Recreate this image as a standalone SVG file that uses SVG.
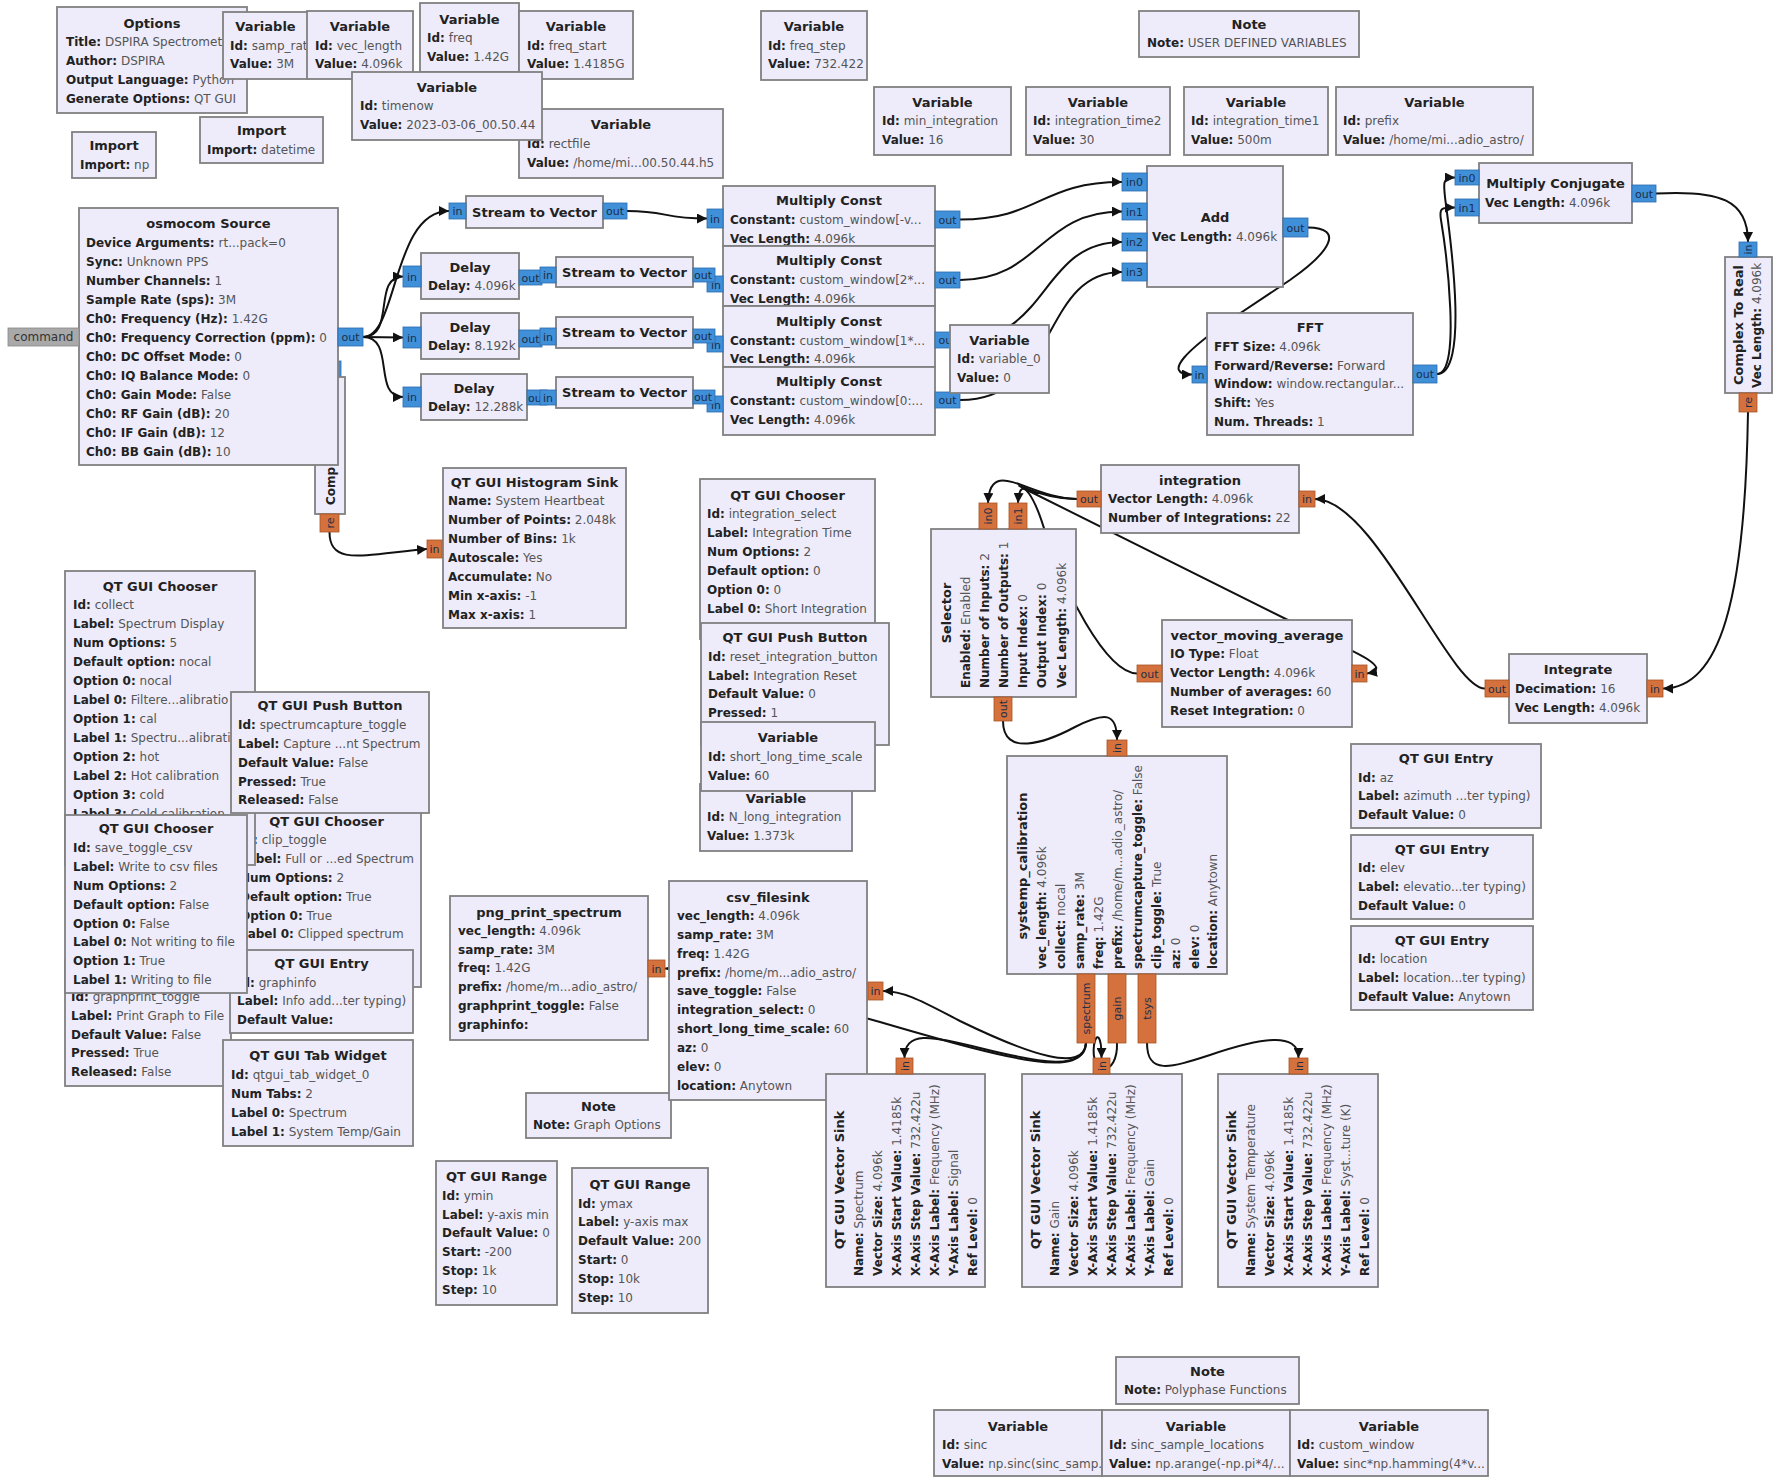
<svg xmlns="http://www.w3.org/2000/svg" width="1775" height="1478" viewBox="0 0 1775 1478">
<defs>
<marker id="ah" markerUnits="userSpaceOnUse" markerWidth="11" markerHeight="10" refX="10" refY="5" orient="auto"><path d="M0,0 L10,5 L0,10 Z" fill="#111"/></marker>
<style>
text{font-family:"DejaVu Sans","Liberation Sans",sans-serif;font-size:12px;fill:#555}
.b{fill:#eeecfb;stroke:#808080;stroke-width:1.8}
.t{font-size:13px;font-weight:bold;fill:#222;text-anchor:middle}
.k{font-weight:bold;fill:#222}
.pb{fill:#3f8fd9;stroke:#2c6cae;stroke-width:.8}
.po{fill:#d4713d;stroke:#a85527;stroke-width:.8}
.pg{fill:#a9a9a9;stroke:#888;stroke-width:.8}
.pt{font-size:11px;fill:#1d2e48;text-anchor:middle}
.c{fill:none;stroke:#111;stroke-width:2;marker-end:url(#ah)}
</style>
</defs>
<rect width="1775" height="1478" fill="#ffffff"/>

<g id="connectors">
<path class="c" d="M363,337 C398,337 392,211 449,211"/>
<path class="c" d="M363,337 C396,337 372,276.5 403,276.5"/>
<path class="c" d="M363,337 L403,337.5"/>
<path class="c" d="M363,337 C396,337 372,397 403,397"/>
<path class="c" d="M627,211 C668,211 662,218.5 707,218.5"/>
<path class="c" d="M960,219.5 C1040,219.5 1040,182 1122,182"/>
<path class="c" d="M960,280 C1040,280 1040,211.5 1122,211.5"/>
<path class="c" d="M960,340 C1050,340 1040,242 1122,242"/>
<path class="c" d="M960,400 C1060,400 1040,272 1122,272"/>
<path class="c" d="M1308,227.5 C1345,228 1330,252 1290,280 L1230,320 C1190,348 1160,374.5 1192,374.5"/>
<path class="c" d="M1437,374 C1468,374 1452,250 1446,205 C1443,182 1442,177.5 1455,177.5"/>
<path class="c" d="M1437,374 C1462,374 1446,250 1441,220 C1439,208 1441,207.5 1455,207.5"/>
<path class="c" d="M1656,193.5 C1720,190 1748,200 1748,242"/>
<path class="c" d="M1748,412 C1745,600 1720,688.5 1663,688.5"/>
<path class="c" d="M1485,688.5 C1450,689 1375,499 1315,499"/>
<path class="c" d="M1077,499 C1030,499 990,455 988,503"/>
<path class="c" d="M1137,673.5 C1105,673 1062,585 1046,535 C1036,500 1020,470 1018,503"/>
<path class="c" d="M1077,499 C1040,499 1005,478 1025,489 L1300,626 C1345,648 1398,668 1367,673.5"/>
<path class="c" d="M1003,721 C1003,757 1045,743 1075,727 C1105,712 1117,712 1117,740"/>
<path class="c" d="M1086,1043 C1085,1071 1040,1063 980,1048 C930,1035 904.5,1031 904.5,1058"/>
<path class="c" d="M1086,1043 C1084,1073 1030,1055 960,1021 C925,1003 905,991 883,991"/>
<path class="c" d="M1086,1043 C1083,1078 1020,1063 880,1022 L700,972 C685,969 680,968.5 665,968.5"/>
<path class="c" d="M1117,1043 C1118,1077 1090,1077 1094,1045 C1096,1033 1101.5,1033 1101.5,1058"/>
<path class="c" d="M1147,1043 C1147,1075 1170,1068 1210,1055 C1260,1038 1298.5,1031 1298.5,1058"/>
<path class="c" d="M329.5,532 C329.5,566 362,555 427,549"/>
</g>

<g id="options"><rect class="b" x="57" y="7" width="190" height="106"/><text class="t" x="152" y="28">Options</text>
<text x="66" y="46"><tspan class="k">Title:</tspan> DSPIRA Spectromet</text>
<text x="66" y="65"><tspan class="k">Author:</tspan> DSPIRA</text>
<text x="66" y="84"><tspan class="k">Output Language:</tspan> Python</text>
<text x="66" y="103"><tspan class="k">Generate Options:</tspan> QT GUI</text></g>

<g id="var_samp_rate"><rect class="b" x="223" y="12" width="85" height="67"/><text class="t" x="265.5" y="31">Variable</text>
<text x="230" y="50"><tspan class="k">Id:</tspan> samp_rate</text><text x="230" y="68"><tspan class="k">Value:</tspan> 3M</text></g>

<g id="var_vec_length"><rect class="b" x="307" y="11" width="106" height="68"/><text class="t" x="360" y="31">Variable</text>
<text x="315" y="50"><tspan class="k">Id:</tspan> vec_length</text><text x="315" y="68"><tspan class="k">Value:</tspan> 4.096k</text></g>

<g id="var_freq"><rect class="b" x="420" y="3" width="99" height="69"/><text class="t" x="469.5" y="24">Variable</text>
<text x="427" y="42"><tspan class="k">Id:</tspan> freq</text><text x="427" y="61"><tspan class="k">Value:</tspan> 1.42G</text></g>

<g id="var_freq_start"><rect class="b" x="519" y="11" width="114" height="68"/><text class="t" x="576" y="31">Variable</text>
<text x="527" y="50"><tspan class="k">Id:</tspan> freq_start</text><text x="527" y="68"><tspan class="k">Value:</tspan> 1.4185G</text></g>

<g id="var_rectfile"><rect class="b" x="519" y="109" width="204" height="69"/><text class="t" x="621" y="129">Variable</text>
<text x="527" y="148"><tspan class="k">Id:</tspan> rectfile</text><text x="527" y="167"><tspan class="k">Value:</tspan> /home/mi...00.50.44.h5</text></g>

<g id="var_timenow"><rect class="b" x="352" y="72" width="190" height="68"/><text class="t" x="447" y="92">Variable</text>
<text x="360" y="110"><tspan class="k">Id:</tspan> timenow</text><text x="360" y="129"><tspan class="k">Value:</tspan> 2023-03-06_00.50.44</text></g>

<g id="import_np"><rect class="b" x="72" y="132" width="84" height="46"/><text class="t" x="114" y="150">Import</text>
<text x="80" y="169"><tspan class="k">Import:</tspan> np</text></g>

<g id="import_datetime"><rect class="b" x="200" y="117" width="123" height="46"/><text class="t" x="261.5" y="135">Import</text>
<text x="207" y="154"><tspan class="k">Import:</tspan> datetime</text></g>

<g id="var_freq_step"><rect class="b" x="761" y="11" width="106" height="69"/><text class="t" x="814" y="31">Variable</text>
<text x="768" y="50"><tspan class="k">Id:</tspan> freq_step</text><text x="768" y="68"><tspan class="k">Value:</tspan> 732.422</text></g>

<g id="note_user"><rect class="b" x="1139" y="11" width="220" height="46"/><text class="t" x="1249" y="29">Note</text>
<text x="1147" y="47"><tspan class="k">Note:</tspan> USER DEFINED VARIABLES</text></g>

<g id="var_min_integration"><rect class="b" x="874" y="87" width="137" height="68"/><text class="t" x="942.5" y="107">Variable</text>
<text x="882" y="125"><tspan class="k">Id:</tspan> min_integration</text><text x="882" y="144"><tspan class="k">Value:</tspan> 16</text></g>

<g id="var_integration_time2"><rect class="b" x="1026" y="87" width="144" height="68"/><text class="t" x="1098" y="107">Variable</text>
<text x="1033" y="125"><tspan class="k">Id:</tspan> integration_time2</text><text x="1033" y="144"><tspan class="k">Value:</tspan> 30</text></g>

<g id="var_integration_time1"><rect class="b" x="1184" y="87" width="144" height="68"/><text class="t" x="1256" y="107">Variable</text>
<text x="1191" y="125"><tspan class="k">Id:</tspan> integration_time1</text><text x="1191" y="144"><tspan class="k">Value:</tspan> 500m</text></g>

<g id="var_prefix"><rect class="b" x="1336" y="87" width="197" height="68"/><text class="t" x="1434.5" y="107">Variable</text>
<text x="1343" y="125"><tspan class="k">Id:</tspan> prefix</text><text x="1343" y="144"><tspan class="k">Value:</tspan> /home/mi...adio_astro/</text></g>

<g id="complex_to_mag"><rect class="pb" x="318" y="361" width="23" height="17"/><rect class="b" x="315" y="377" width="30" height="137"/>
<text x="335" y="505" class="k" transform="rotate(-90 335 505)">Comp</text>
<rect class="po" x="320" y="514" width="19" height="18"/><text class="pt" x="333.5" y="523" transform="rotate(-90 333.5 523)">re</text></g>

<g id="osmocom_source"><rect class="b" x="79" y="208" width="259" height="257"/><text class="t" x="208.5" y="228">osmocom Source</text>
<text x="86" y="247"><tspan class="k">Device Arguments:</tspan> rt...pack=0</text>
<text x="86" y="266"><tspan class="k">Sync:</tspan> Unknown PPS</text>
<text x="86" y="285"><tspan class="k">Number Channels:</tspan> 1</text>
<text x="86" y="304"><tspan class="k">Sample Rate (sps):</tspan> 3M</text>
<text x="86" y="323"><tspan class="k">Ch0: Frequency (Hz):</tspan> 1.42G</text>
<text x="86" y="342"><tspan class="k">Ch0: Frequency Correction (ppm):</tspan> 0</text>
<text x="86" y="361"><tspan class="k">Ch0: DC Offset Mode:</tspan> 0</text>
<text x="86" y="380"><tspan class="k">Ch0: IQ Balance Mode:</tspan> 0</text>
<text x="86" y="399"><tspan class="k">Ch0: Gain Mode:</tspan> False</text>
<text x="86" y="418"><tspan class="k">Ch0: RF Gain (dB):</tspan> 20</text>
<text x="86" y="437"><tspan class="k">Ch0: IF Gain (dB):</tspan> 12</text>
<text x="86" y="456"><tspan class="k">Ch0: BB Gain (dB):</tspan> 10</text>
<rect class="pg" x="8" y="328" width="71" height="18"/><text class="pt" x="43.5" y="341" style="fill:#333;font-size:12px">command</text>
<rect class="pb" x="338" y="328" width="25" height="18"/><text class="pt" x="350.5" y="341">out</text></g>

<g id="stream_to_vector_1"><rect class="b" x="466" y="196" width="137" height="32"/><text class="t" x="534.5" y="217">Stream to Vector</text>
<rect class="pb" x="449" y="203" width="17" height="16"/><text class="pt" x="457.5" y="215">in</text>
<rect class="pb" x="603" y="203" width="24" height="16"/><text class="pt" x="615" y="215">out</text></g>

<g id="delay_1"><rect class="b" x="421" y="253" width="98" height="46"/><text class="t" x="470" y="272">Delay</text>
<text x="428" y="290"><tspan class="k">Delay:</tspan> 4.096k</text>
<rect class="pb" x="403" y="266" width="18" height="21"/><text class="pt" x="412" y="280.5">in</text>
<rect class="pb" x="519" y="270" width="23" height="15"/><text class="pt" x="530.5" y="281.5">out</text></g>

<g id="delay_2"><rect class="b" x="421" y="313" width="98" height="46"/><text class="t" x="470" y="332">Delay</text>
<text x="428" y="350"><tspan class="k">Delay:</tspan> 8.192k</text>
<rect class="pb" x="403" y="327" width="18" height="21"/><text class="pt" x="412" y="341.5">in</text>
<rect class="pb" x="519" y="330" width="23" height="17"/><text class="pt" x="530.5" y="342.5">out</text></g>

<g id="delay_3"><rect class="b" x="421" y="374" width="106" height="46"/><text class="t" x="474" y="393">Delay</text>
<text x="428" y="411"><tspan class="k">Delay:</tspan> 12.288k</text>
<rect class="pb" x="403" y="387" width="18" height="20"/><text class="pt" x="412" y="401">in</text>
<rect class="pb" x="527" y="390" width="20" height="15"/><text class="pt" x="537" y="401.5">out</text></g>

<g id="multiply_const_1"><rect class="b" x="723" y="186" width="212" height="60"/><text class="t" x="829" y="205">Multiply Const</text>
<text x="730" y="224"><tspan class="k">Constant:</tspan> custom_window[-v...</text>
<text x="730" y="243"><tspan class="k">Vec Length:</tspan> 4.096k</text>
<rect class="pb" x="707" y="209" width="16" height="19"/><text class="pt" x="715" y="222.5">in</text>
<rect class="pb" x="935" y="211" width="25" height="17"/><text class="pt" x="947.5" y="223.5">out</text></g>

<g id="multiply_const_2"><rect class="b" x="723" y="246" width="212" height="60"/><text class="t" x="829" y="265">Multiply Const</text>
<text x="730" y="284"><tspan class="k">Constant:</tspan> custom_window[2*...</text>
<text x="730" y="303"><tspan class="k">Vec Length:</tspan> 4.096k</text>
<rect class="pb" x="707" y="276" width="16" height="16"/><text class="pt" x="716" y="289">in</text>
<rect class="pb" x="935" y="272" width="25" height="16"/><text class="pt" x="947.5" y="284">out</text></g>

<g id="multiply_const_3"><rect class="b" x="723" y="306" width="212" height="61"/><text class="t" x="829" y="326">Multiply Const</text>
<text x="730" y="345"><tspan class="k">Constant:</tspan> custom_window[1*...</text>
<text x="730" y="363"><tspan class="k">Vec Length:</tspan> 4.096k</text>
<rect class="pb" x="707" y="336" width="16" height="16"/><text class="pt" x="716" y="349">in</text>
<rect class="pb" x="935" y="332" width="25" height="16"/><text class="pt" x="947.5" y="344">out</text></g>

<g id="multiply_const_4"><rect class="b" x="723" y="367" width="212" height="68"/><text class="t" x="829" y="386">Multiply Const</text>
<text x="730" y="405"><tspan class="k">Constant:</tspan> custom_window[0:...</text>
<text x="730" y="424"><tspan class="k">Vec Length:</tspan> 4.096k</text>
<rect class="pb" x="707" y="396" width="16" height="16"/><text class="pt" x="716" y="409">in</text>
<rect class="pb" x="935" y="392" width="25" height="16"/><text class="pt" x="947.5" y="404">out</text></g>

<g id="stream_to_vector_2"><rect class="b" x="556" y="257" width="137" height="30"/><text class="t" x="624.5" y="277">Stream to Vector</text>
<rect class="pb" x="540" y="267" width="16" height="16"/><text class="pt" x="548" y="279">in</text>
<rect class="pb" x="693" y="268" width="22" height="14"/><text class="pt" x="703" y="279">out</text></g>

<g id="stream_to_vector_3"><rect class="b" x="556" y="317" width="137" height="31"/><text class="t" x="624.5" y="337">Stream to Vector</text>
<rect class="pb" x="540" y="328" width="16" height="17"/><text class="pt" x="548" y="340.5">in</text>
<rect class="pb" x="693" y="329" width="22" height="14"/><text class="pt" x="703" y="340">out</text></g>

<g id="stream_to_vector_4"><rect class="b" x="556" y="377" width="137" height="31"/><text class="t" x="624.5" y="397">Stream to Vector</text>
<rect class="pb" x="540" y="390" width="16" height="15"/><text class="pt" x="548" y="401.5">in</text>
<rect class="pb" x="693" y="390" width="22" height="14"/><text class="pt" x="703" y="401">out</text></g>

<g id="var_variable_0"><rect class="b" x="950" y="325" width="99" height="68"/><text class="t" x="999.5" y="345">Variable</text>
<text x="957" y="363"><tspan class="k">Id:</tspan> variable_0</text><text x="957" y="382"><tspan class="k">Value:</tspan> 0</text></g>

<g id="add"><rect class="b" x="1147" y="166" width="136" height="121"/><text class="t" x="1215" y="222">Add</text>
<text x="1152" y="241"><tspan class="k">Vec Length:</tspan> 4.096k</text>
<rect class="pb" x="1122" y="173" width="25" height="18"/><text class="pt" x="1134.5" y="186">in0</text>
<rect class="pb" x="1122" y="203" width="25" height="17"/><text class="pt" x="1134.5" y="215.5">in1</text>
<rect class="pb" x="1122" y="233" width="25" height="18"/><text class="pt" x="1134.5" y="246">in2</text>
<rect class="pb" x="1122" y="263" width="25" height="18"/><text class="pt" x="1134.5" y="276">in3</text>
<rect class="pb" x="1283" y="218" width="25" height="19"/><text class="pt" x="1295.5" y="231.5">out</text></g>

<g id="fft"><rect class="b" x="1207" y="313" width="206" height="122"/><text class="t" x="1310" y="332">FFT</text>
<text x="1214" y="351"><tspan class="k">FFT Size:</tspan> 4.096k</text>
<text x="1214" y="370"><tspan class="k">Forward/Reverse:</tspan> Forward</text>
<text x="1214" y="388"><tspan class="k">Window:</tspan> window.rectangular...</text>
<text x="1214" y="407"><tspan class="k">Shift:</tspan> Yes</text>
<text x="1214" y="426"><tspan class="k">Num. Threads:</tspan> 1</text>
<rect class="pb" x="1192" y="366" width="15" height="17"/><text class="pt" x="1199.5" y="378.5">in</text>
<rect class="pb" x="1413" y="365" width="24" height="18"/><text class="pt" x="1425" y="378">out</text></g>

<g id="multiply_conjugate"><rect class="b" x="1479" y="163" width="153" height="60"/><text class="t" x="1555.5" y="188">Multiply Conjugate</text>
<text x="1485" y="207"><tspan class="k">Vec Length:</tspan> 4.096k</text>
<rect class="pb" x="1455" y="170" width="24" height="15"/><text class="pt" x="1467" y="181.5">in0</text>
<rect class="pb" x="1455" y="199" width="24" height="17"/><text class="pt" x="1467" y="211.5">in1</text>
<rect class="pb" x="1632" y="185" width="24" height="17"/><text class="pt" x="1644" y="197.5">out</text></g>

<g id="complex_to_real"><rect class="b" x="1725" y="257" width="47" height="136"/>
<text class="t" x="1743" y="325" transform="rotate(-90 1743 325)">Complex To Real</text>
<text x="1761" y="388" transform="rotate(-90 1761 388)"><tspan class="k">Vec Length:</tspan> 4.096k</text>
<rect class="pb" x="1739" y="242" width="18" height="15"/><text class="pt" x="1752" y="249.5" transform="rotate(-90 1752 249.5)">in</text>
<rect class="po" x="1739" y="393" width="18" height="19"/><text class="pt" x="1752" y="402.5" transform="rotate(-90 1752 402.5)">re</text></g>

<g id="histogram_sink"><rect class="b" x="443" y="468" width="183" height="160"/><text class="t" x="534.5" y="487">QT GUI Histogram Sink</text>
<text x="448" y="505"><tspan class="k">Name:</tspan> System Heartbeat</text>
<text x="448" y="524"><tspan class="k">Number of Points:</tspan> 2.048k</text>
<text x="448" y="543"><tspan class="k">Number of Bins:</tspan> 1k</text>
<text x="448" y="562"><tspan class="k">Autoscale:</tspan> Yes</text>
<text x="448" y="581"><tspan class="k">Accumulate:</tspan> No</text>
<text x="448" y="600"><tspan class="k">Min x-axis:</tspan> -1</text>
<text x="448" y="619"><tspan class="k">Max x-axis:</tspan> 1</text>
<rect class="po" x="427" y="540" width="15" height="18"/><text class="pt" x="434.5" y="553">in</text></g>

<g id="chooser_integration_select"><rect class="b" x="700" y="479" width="175" height="160"/><text class="t" x="787.5" y="500">QT GUI Chooser</text>
<text x="707" y="518"><tspan class="k">Id:</tspan> integration_select</text>
<text x="707" y="537"><tspan class="k">Label:</tspan> Integration Time</text>
<text x="707" y="556"><tspan class="k">Num Options:</tspan> 2</text>
<text x="707" y="575"><tspan class="k">Default option:</tspan> 0</text>
<text x="707" y="594"><tspan class="k">Option 0:</tspan> 0</text>
<text x="707" y="613"><tspan class="k">Label 0:</tspan> Short Integration</text></g>

<g id="push_reset_integration"><rect class="b" x="701" y="623" width="188" height="122"/><text class="t" x="795" y="642">QT GUI Push Button</text>
<text x="708" y="661"><tspan class="k">Id:</tspan> reset_integration_button</text>
<text x="708" y="680"><tspan class="k">Label:</tspan> Integration Reset</text>
<text x="708" y="698"><tspan class="k">Default Value:</tspan> 0</text>
<text x="708" y="717"><tspan class="k">Pressed:</tspan> 1</text></g>

<g id="var_N_long_integration"><rect class="b" x="700" y="784" width="152" height="67"/><text class="t" x="776" y="803">Variable</text>
<text x="707" y="821"><tspan class="k">Id:</tspan> N_long_integration</text><text x="707" y="840"><tspan class="k">Value:</tspan> 1.373k</text></g>

<g id="var_short_long_time_scale"><rect class="b" x="701" y="722" width="174" height="69"/><text class="t" x="788" y="742">Variable</text>
<text x="708" y="761"><tspan class="k">Id:</tspan> short_long_time_scale</text><text x="708" y="780"><tspan class="k">Value:</tspan> 60</text></g>

<g id="chooser_clip_toggle"><rect class="b" x="232" y="806" width="189" height="181"/><text class="t" x="326.5" y="826">QT GUI Chooser</text>
<text x="240" y="844"><tspan class="k">Id:</tspan> clip_toggle</text>
<text x="240" y="863"><tspan class="k">Label:</tspan> Full or ...ed Spectrum</text>
<text x="240" y="882"><tspan class="k">Num Options:</tspan> 2</text>
<text x="240" y="901"><tspan class="k">Default option:</tspan> True</text>
<text x="240" y="920"><tspan class="k">Option 0:</tspan> True</text>
<text x="240" y="938"><tspan class="k">Label 0:</tspan> Clipped spectrum</text></g>

<g id="chooser_collect"><rect class="b" x="65" y="571" width="190" height="294"/><text class="t" x="160" y="591">QT GUI Chooser</text>
<text x="73" y="609"><tspan class="k">Id:</tspan> collect</text>
<text x="73" y="628"><tspan class="k">Label:</tspan> Spectrum Display</text>
<text x="73" y="647"><tspan class="k">Num Options:</tspan> 5</text>
<text x="73" y="666"><tspan class="k">Default option:</tspan> nocal</text>
<text x="73" y="685"><tspan class="k">Option 0:</tspan> nocal</text>
<text x="73" y="704"><tspan class="k">Label 0:</tspan> Filtere...alibratio</text>
<text x="73" y="723"><tspan class="k">Option 1:</tspan> cal</text>
<text x="73" y="742"><tspan class="k">Label 1:</tspan> Spectru...alibrati</text>
<text x="73" y="761"><tspan class="k">Option 2:</tspan> hot</text>
<text x="73" y="780"><tspan class="k">Label 2:</tspan> Hot calibration</text>
<text x="73" y="799"><tspan class="k">Option 3:</tspan> cold</text>
<text x="73" y="818"><tspan class="k">Label 3:</tspan> Cold calibration</text></g>

<g id="push_spectrumcapture"><rect class="b" x="231" y="692" width="198" height="121"/><text class="t" x="330" y="710">QT GUI Push Button</text>
<text x="238" y="729"><tspan class="k">Id:</tspan> spectrumcapture_toggle</text>
<text x="238" y="748"><tspan class="k">Label:</tspan> Capture ...nt Spectrum</text>
<text x="238" y="767"><tspan class="k">Default Value:</tspan> False</text>
<text x="238" y="786"><tspan class="k">Pressed:</tspan> True</text>
<text x="238" y="804"><tspan class="k">Released:</tspan> False</text></g>

<g id="push_graphprint"><rect class="b" x="65" y="960" width="166" height="126"/>
<text x="71" y="1001"><tspan class="k">Id:</tspan> graphprint_toggle</text>
<text x="71" y="1020"><tspan class="k">Label:</tspan> Print Graph to File</text>
<text x="71" y="1039"><tspan class="k">Default Value:</tspan> False</text>
<text x="71" y="1057"><tspan class="k">Pressed:</tspan> True</text>
<text x="71" y="1076"><tspan class="k">Released:</tspan> False</text></g>

<g id="entry_graphinfo"><rect class="b" x="230" y="950" width="183" height="83"/><text class="t" x="321.5" y="968">QT GUI Entry</text>
<text x="237" y="987"><tspan class="k">Id:</tspan> graphinfo</text>
<text x="237" y="1005"><tspan class="k">Label:</tspan> Info add...ter typing)</text>
<text x="237" y="1024"><tspan class="k">Default Value:</tspan></text></g>

<g id="chooser_save_toggle_csv"><rect class="b" x="65" y="815" width="182" height="178"/><text class="t" x="156" y="833">QT GUI Chooser</text>
<text x="73" y="852"><tspan class="k">Id:</tspan> save_toggle_csv</text>
<text x="73" y="871"><tspan class="k">Label:</tspan> Write to csv files</text>
<text x="73" y="890"><tspan class="k">Num Options:</tspan> 2</text>
<text x="73" y="909"><tspan class="k">Default option:</tspan> False</text>
<text x="73" y="928"><tspan class="k">Option 0:</tspan> False</text>
<text x="73" y="946"><tspan class="k">Label 0:</tspan> Not writing to file</text>
<text x="73" y="965"><tspan class="k">Option 1:</tspan> True</text>
<text x="73" y="984"><tspan class="k">Label 1:</tspan> Writing to file</text></g>

<g id="tab_widget"><rect class="b" x="223" y="1040" width="190" height="106"/><text class="t" x="318" y="1060">QT GUI Tab Widget</text>
<text x="231" y="1079"><tspan class="k">Id:</tspan> qtgui_tab_widget_0</text>
<text x="231" y="1098"><tspan class="k">Num Tabs:</tspan> 2</text>
<text x="231" y="1117"><tspan class="k">Label 0:</tspan> Spectrum</text>
<text x="231" y="1136"><tspan class="k">Label 1:</tspan> System Temp/Gain</text></g>

<g id="selector"><rect class="b" x="931" y="529" width="145" height="168"/>
<text class="t" x="951" y="613" transform="rotate(-90 951 613)">Selector</text>
<text x="970" y="688" transform="rotate(-90 970 688)"><tspan class="k">Enabled:</tspan> Enabled</text>
<text x="989" y="688" transform="rotate(-90 989 688)"><tspan class="k">Number of Inputs:</tspan> 2</text>
<text x="1008" y="688" transform="rotate(-90 1008 688)"><tspan class="k">Number of Outputs:</tspan> 1</text>
<text x="1027" y="688" transform="rotate(-90 1027 688)"><tspan class="k">Input Index:</tspan> 0</text>
<text x="1046" y="688" transform="rotate(-90 1046 688)"><tspan class="k">Output Index:</tspan> 0</text>
<text x="1066" y="688" transform="rotate(-90 1066 688)"><tspan class="k">Vec Length:</tspan> 4.096k</text>
<rect class="po" x="979" y="503" width="18" height="26"/><text class="pt" x="992" y="516" transform="rotate(-90 992 516)">in0</text>
<rect class="po" x="1009" y="503" width="18" height="26"/><text class="pt" x="1022" y="516" transform="rotate(-90 1022 516)">in1</text>
<rect class="po" x="994" y="697" width="18" height="24"/><text class="pt" x="1007" y="709" transform="rotate(-90 1007 709)">out</text></g>

<g id="integration"><rect class="b" x="1101" y="465" width="198" height="68"/><text class="t" x="1200" y="485">integration</text>
<text x="1108" y="503"><tspan class="k">Vector Length:</tspan> 4.096k</text>
<text x="1108" y="522"><tspan class="k">Number of Integrations:</tspan> 22</text>
<rect class="po" x="1077" y="491" width="24" height="16"/><text class="pt" x="1089" y="503">out</text>
<rect class="po" x="1299" y="491" width="16" height="16"/><text class="pt" x="1307" y="503">in</text></g>

<g id="vector_moving_average"><rect class="b" x="1162" y="620" width="190" height="107"/><text class="t" x="1257" y="640">vector_moving_average</text>
<text x="1170" y="658"><tspan class="k">IO Type:</tspan> Float</text>
<text x="1170" y="677"><tspan class="k">Vector Length:</tspan> 4.096k</text>
<text x="1170" y="696"><tspan class="k">Number of averages:</tspan> 60</text>
<text x="1170" y="715"><tspan class="k">Reset Integration:</tspan> 0</text>
<rect class="po" x="1137" y="665" width="25" height="17"/><text class="pt" x="1149.5" y="677.5">out</text>
<rect class="po" x="1352" y="665" width="15" height="17"/><text class="pt" x="1359.5" y="677.5">in</text></g>

<g id="integrate"><rect class="b" x="1509" y="654" width="138" height="69"/><text class="t" x="1578" y="674">Integrate</text>
<text x="1515" y="693"><tspan class="k">Decimation:</tspan> 16</text>
<text x="1515" y="712"><tspan class="k">Vec Length:</tspan> 4.096k</text>
<rect class="po" x="1485" y="680" width="24" height="17"/><text class="pt" x="1497" y="692.5">out</text>
<rect class="po" x="1647" y="680" width="16" height="17"/><text class="pt" x="1655" y="692.5">in</text></g>

<g id="systemp_calibration"><rect class="b" x="1007" y="756" width="220" height="218"/>
<text class="t" x="1027" y="866" transform="rotate(-90 1027 866)">systemp_calibration</text>
<text x="1046" y="969" transform="rotate(-90 1046 969)"><tspan class="k">vec_length:</tspan> 4.096k</text>
<text x="1065" y="969" transform="rotate(-90 1065 969)"><tspan class="k">collect:</tspan> nocal</text>
<text x="1084" y="969" transform="rotate(-90 1084 969)"><tspan class="k">samp_rate:</tspan> 3M</text>
<text x="1103" y="969" transform="rotate(-90 1103 969)"><tspan class="k">freq:</tspan> 1.42G</text>
<text x="1122" y="969" transform="rotate(-90 1122 969)"><tspan class="k">prefix:</tspan> /home/m...adio_astro/</text>
<text x="1142" y="969" transform="rotate(-90 1142 969)"><tspan class="k">spectrumcapture_toggle:</tspan> False</text>
<text x="1161" y="969" transform="rotate(-90 1161 969)"><tspan class="k">clip_toggle:</tspan> True</text>
<text x="1180" y="969" transform="rotate(-90 1180 969)"><tspan class="k">az:</tspan> 0</text>
<text x="1199" y="969" transform="rotate(-90 1199 969)"><tspan class="k">elev:</tspan> 0</text>
<text x="1217" y="969" transform="rotate(-90 1217 969)"><tspan class="k">location:</tspan> Anytown</text>
<rect class="po" x="1107" y="740" width="20" height="16"/><text class="pt" x="1121" y="748" transform="rotate(-90 1121 748)">in</text>
<rect class="po" x="1077" y="974" width="18" height="69"/><text class="pt" x="1090" y="1008.5" transform="rotate(-90 1090 1008.5)">spectrum</text>
<rect class="po" x="1108" y="974" width="18" height="69"/><text class="pt" x="1121" y="1008.5" transform="rotate(-90 1121 1008.5)">gain</text>
<rect class="po" x="1138" y="974" width="18" height="69"/><text class="pt" x="1151" y="1008.5" transform="rotate(-90 1151 1008.5)">tsys</text></g>

<g id="entry_az"><rect class="b" x="1351" y="744" width="190" height="84"/><text class="t" x="1446" y="763">QT GUI Entry</text>
<text x="1358" y="782"><tspan class="k">Id:</tspan> az</text>
<text x="1358" y="800"><tspan class="k">Label:</tspan> azimuth ...ter typing)</text>
<text x="1358" y="819"><tspan class="k">Default Value:</tspan> 0</text></g>

<g id="entry_elev"><rect class="b" x="1351" y="835" width="182" height="84"/><text class="t" x="1442" y="854">QT GUI Entry</text>
<text x="1358" y="872"><tspan class="k">Id:</tspan> elev</text>
<text x="1358" y="891"><tspan class="k">Label:</tspan> elevatio...ter typing)</text>
<text x="1358" y="910"><tspan class="k">Default Value:</tspan> 0</text></g>

<g id="entry_location"><rect class="b" x="1351" y="926" width="182" height="84"/><text class="t" x="1442" y="945">QT GUI Entry</text>
<text x="1358" y="963"><tspan class="k">Id:</tspan> location</text>
<text x="1358" y="982"><tspan class="k">Label:</tspan> location...ter typing)</text>
<text x="1358" y="1001"><tspan class="k">Default Value:</tspan> Anytown</text></g>

<g id="png_print_spectrum"><rect class="b" x="450" y="896" width="198" height="144"/><text class="t" x="549" y="917">png_print_spectrum</text>
<text x="458" y="935"><tspan class="k">vec_length:</tspan> 4.096k</text>
<text x="458" y="954"><tspan class="k">samp_rate:</tspan> 3M</text>
<text x="458" y="972"><tspan class="k">freq:</tspan> 1.42G</text>
<text x="458" y="991"><tspan class="k">prefix:</tspan> /home/m...adio_astro/</text>
<text x="458" y="1010"><tspan class="k">graphprint_toggle:</tspan> False</text>
<text x="458" y="1029"><tspan class="k">graphinfo:</tspan></text>
<rect class="po" x="648" y="960" width="17" height="17"/><text class="pt" x="656.5" y="972.5">in</text></g>

<g id="note_graph_options"><rect class="b" x="526" y="1093" width="145" height="45"/><text class="t" x="598.5" y="1111">Note</text>
<text x="533" y="1129"><tspan class="k">Note:</tspan> Graph Options</text></g>

<g id="csv_filesink"><rect class="b" x="669" y="881" width="198" height="219"/><text class="t" x="768" y="902">csv_filesink</text>
<text x="677" y="920"><tspan class="k">vec_length:</tspan> 4.096k</text>
<text x="677" y="939"><tspan class="k">samp_rate:</tspan> 3M</text>
<text x="677" y="958"><tspan class="k">freq:</tspan> 1.42G</text>
<text x="677" y="977"><tspan class="k">prefix:</tspan> /home/m...adio_astro/</text>
<text x="677" y="995"><tspan class="k">save_toggle:</tspan> False</text>
<text x="677" y="1014"><tspan class="k">integration_select:</tspan> 0</text>
<text x="677" y="1033"><tspan class="k">short_long_time_scale:</tspan> 60</text>
<text x="677" y="1052"><tspan class="k">az:</tspan> 0</text>
<text x="677" y="1071"><tspan class="k">elev:</tspan> 0</text>
<text x="677" y="1090"><tspan class="k">location:</tspan> Anytown</text>
<rect class="po" x="868" y="982" width="15" height="18"/><text class="pt" x="875.5" y="995">in</text></g>

<g id="range_ymin"><rect class="b" x="436" y="1161" width="121" height="144"/><text class="t" x="496.5" y="1181">QT GUI Range</text>
<text x="442" y="1200"><tspan class="k">Id:</tspan> ymin</text>
<text x="442" y="1219"><tspan class="k">Label:</tspan> y-axis min</text>
<text x="442" y="1237"><tspan class="k">Default Value:</tspan> 0</text>
<text x="442" y="1256"><tspan class="k">Start:</tspan> -200</text>
<text x="442" y="1275"><tspan class="k">Stop:</tspan> 1k</text>
<text x="442" y="1294"><tspan class="k">Step:</tspan> 10</text></g>

<g id="range_ymax"><rect class="b" x="572" y="1168" width="136" height="145"/><text class="t" x="640" y="1189">QT GUI Range</text>
<text x="578" y="1208"><tspan class="k">Id:</tspan> ymax</text>
<text x="578" y="1226"><tspan class="k">Label:</tspan> y-axis max</text>
<text x="578" y="1245"><tspan class="k">Default Value:</tspan> 200</text>
<text x="578" y="1264"><tspan class="k">Start:</tspan> 0</text>
<text x="578" y="1283"><tspan class="k">Stop:</tspan> 10k</text>
<text x="578" y="1302"><tspan class="k">Step:</tspan> 10</text></g>

<g id="vector_sink_spectrum"><rect class="b" x="826" y="1074" width="159" height="213"/>
<text class="t" x="844" y="1180" transform="rotate(-90 844 1180)">QT GUI Vector Sink</text>
<text x="863" y="1276" transform="rotate(-90 863 1276)"><tspan class="k">Name:</tspan> Spectrum</text>
<text x="882" y="1276" transform="rotate(-90 882 1276)"><tspan class="k">Vector Size:</tspan> 4.096k</text>
<text x="901" y="1276" transform="rotate(-90 901 1276)"><tspan class="k">X-Axis Start Value:</tspan> 1.4185k</text>
<text x="920" y="1276" transform="rotate(-90 920 1276)"><tspan class="k">X-Axis Step Value:</tspan> 732.422u</text>
<text x="939" y="1276" transform="rotate(-90 939 1276)"><tspan class="k">X-Axis Label:</tspan> Frequency (MHz)</text>
<text x="958" y="1276" transform="rotate(-90 958 1276)"><tspan class="k">Y-Axis Label:</tspan> Signal</text>
<text x="977" y="1276" transform="rotate(-90 977 1276)"><tspan class="k">Ref Level:</tspan> 0</text>
<rect class="po" x="896" y="1058" width="17" height="16"/><text class="pt" x="908.5" y="1066" transform="rotate(-90 908.5 1066)">in</text></g>

<g id="vector_sink_gain"><rect class="b" x="1022" y="1074" width="160" height="213"/>
<text class="t" x="1040" y="1180" transform="rotate(-90 1040 1180)">QT GUI Vector Sink</text>
<text x="1059" y="1276" transform="rotate(-90 1059 1276)"><tspan class="k">Name:</tspan> Gain</text>
<text x="1078" y="1276" transform="rotate(-90 1078 1276)"><tspan class="k">Vector Size:</tspan> 4.096k</text>
<text x="1097" y="1276" transform="rotate(-90 1097 1276)"><tspan class="k">X-Axis Start Value:</tspan> 1.4185k</text>
<text x="1116" y="1276" transform="rotate(-90 1116 1276)"><tspan class="k">X-Axis Step Value:</tspan> 732.422u</text>
<text x="1135" y="1276" transform="rotate(-90 1135 1276)"><tspan class="k">X-Axis Label:</tspan> Frequency (MHz)</text>
<text x="1154" y="1276" transform="rotate(-90 1154 1276)"><tspan class="k">Y-Axis Label:</tspan> Gain</text>
<text x="1173" y="1276" transform="rotate(-90 1173 1276)"><tspan class="k">Ref Level:</tspan> 0</text>
<rect class="po" x="1093" y="1058" width="17" height="16"/><text class="pt" x="1105.5" y="1066" transform="rotate(-90 1105.5 1066)">in</text></g>

<g id="vector_sink_tsys"><rect class="b" x="1218" y="1074" width="160" height="213"/>
<text class="t" x="1236" y="1180" transform="rotate(-90 1236 1180)">QT GUI Vector Sink</text>
<text x="1255" y="1276" transform="rotate(-90 1255 1276)"><tspan class="k">Name:</tspan> System Temperature</text>
<text x="1274" y="1276" transform="rotate(-90 1274 1276)"><tspan class="k">Vector Size:</tspan> 4.096k</text>
<text x="1293" y="1276" transform="rotate(-90 1293 1276)"><tspan class="k">X-Axis Start Value:</tspan> 1.4185k</text>
<text x="1312" y="1276" transform="rotate(-90 1312 1276)"><tspan class="k">X-Axis Step Value:</tspan> 732.422u</text>
<text x="1331" y="1276" transform="rotate(-90 1331 1276)"><tspan class="k">X-Axis Label:</tspan> Frequency (MHz)</text>
<text x="1350" y="1276" transform="rotate(-90 1350 1276)"><tspan class="k">Y-Axis Label:</tspan> Syst...ture (K)</text>
<text x="1369" y="1276" transform="rotate(-90 1369 1276)"><tspan class="k">Ref Level:</tspan> 0</text>
<rect class="po" x="1289" y="1058" width="19" height="16"/><text class="pt" x="1302.5" y="1066" transform="rotate(-90 1302.5 1066)">in</text></g>

<g id="note_polyphase"><rect class="b" x="1116" y="1357" width="183" height="47"/><text class="t" x="1207.5" y="1376">Note</text>
<text x="1124" y="1394"><tspan class="k">Note:</tspan> Polyphase Functions</text></g>

<g id="var_sinc"><rect class="b" x="934" y="1410" width="168" height="66"/><text class="t" x="1018" y="1431">Variable</text>
<text x="942" y="1449"><tspan class="k">Id:</tspan> sinc</text><text x="942" y="1468"><tspan class="k">Value:</tspan> np.sinc(sinc_samp...</text></g>

<g id="var_sinc_sample_locations"><rect class="b" x="1102" y="1410" width="188" height="66"/><text class="t" x="1196" y="1431">Variable</text>
<text x="1109" y="1449"><tspan class="k">Id:</tspan> sinc_sample_locations</text><text x="1109" y="1468"><tspan class="k">Value:</tspan> np.arange(-np.pi*4/...</text></g>

<g id="var_custom_window"><rect class="b" x="1290" y="1410" width="198" height="66"/><text class="t" x="1389" y="1431">Variable</text>
<text x="1297" y="1449"><tspan class="k">Id:</tspan> custom_window</text><text x="1297" y="1468"><tspan class="k">Value:</tspan> sinc*np.hamming(4*v...</text></g>
</svg>
